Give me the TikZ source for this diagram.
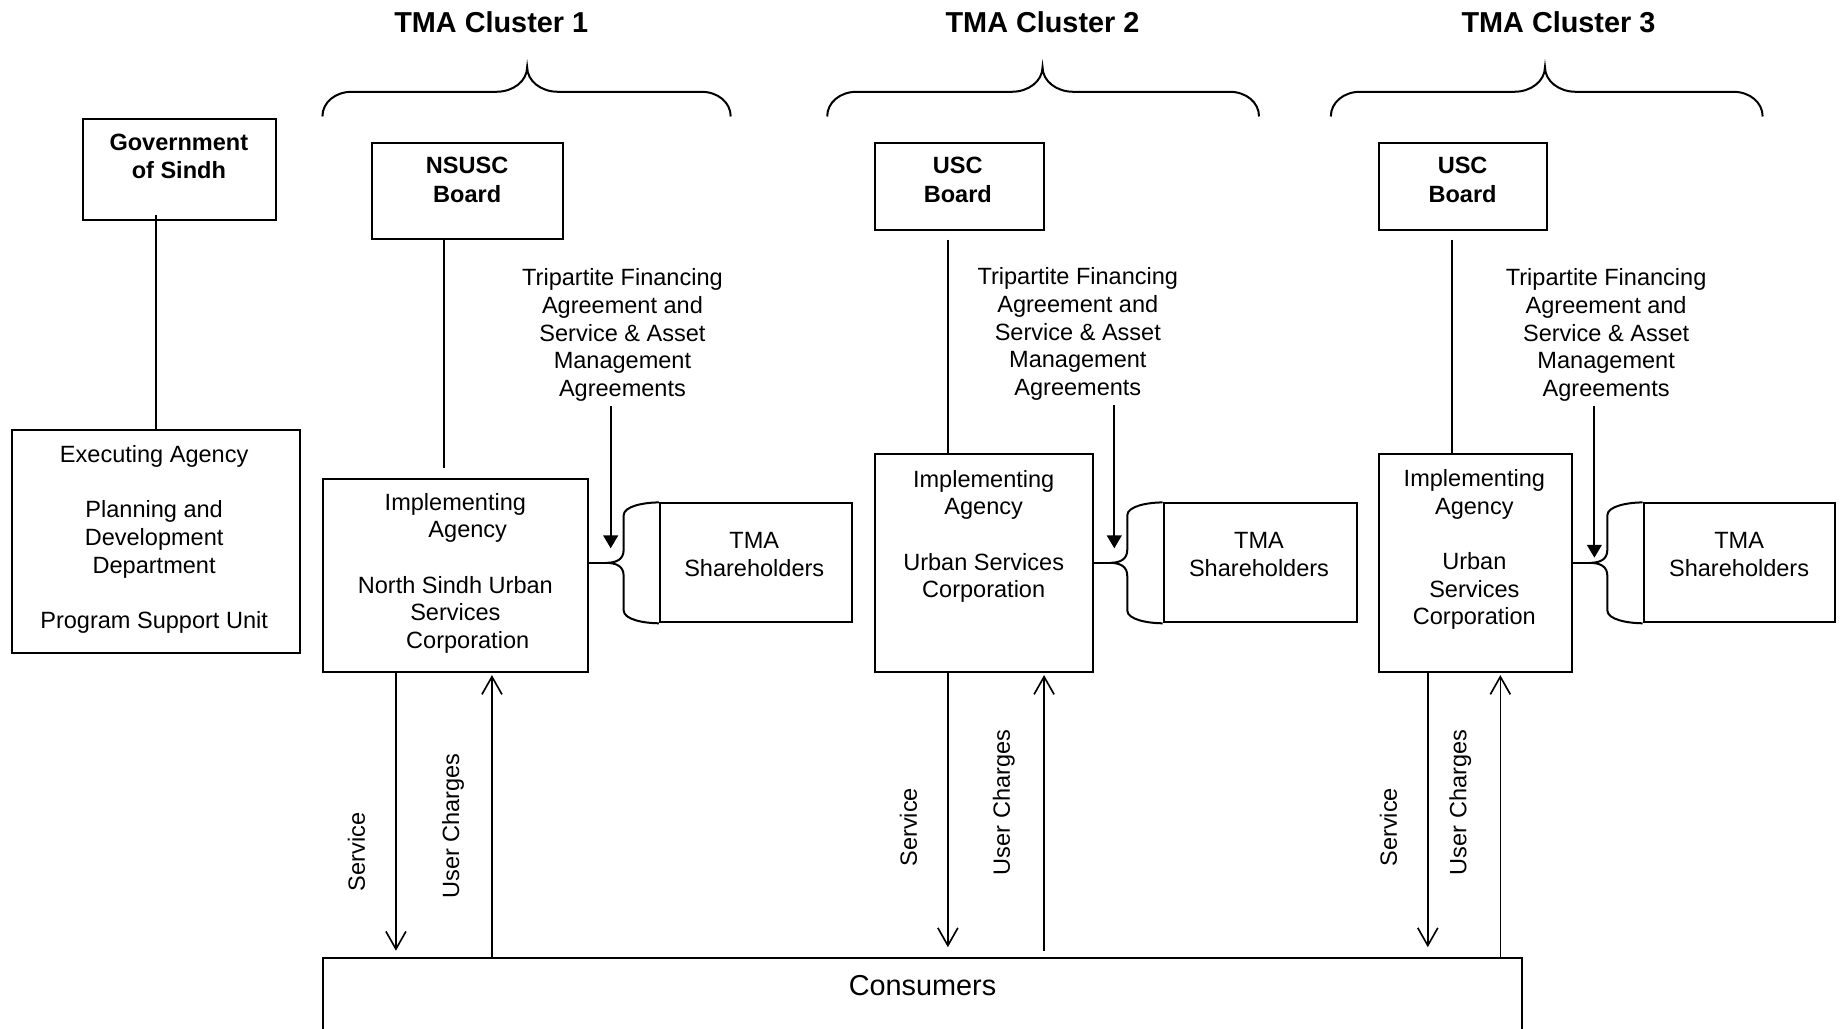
\documentclass[tikz,border=0pt]{standalone}
\usepackage{fontspec}
\setmainfont{Liberation Sans}
\usetikzlibrary{arrows.meta,calc}
\newcommand\fsn{\fontsize{20pt}{23.5pt}\selectfont}
\newcommand\fsb{\fontsize{20pt}{24.5pt}\selectfont\bfseries}
\newcommand\fst{\fontsize{24.5pt}{28pt}\selectfont\bfseries}
\newcommand\fsc{\fontsize{24.5pt}{28pt}\selectfont}
\tikzset{
  ln/.style={line width=1.7pt},
  box/.style={draw, line width=1.7pt, rectangle, inner sep=0pt, anchor=north west},
  txt/.style={align=center, inner sep=0pt, anchor=base, font=\fsn},
  ttl/.style={inner sep=0pt, anchor=base, font=\fst},
  rlab/.style={inner sep=0pt, anchor=center, rotate=90, font=\fsn},
  sarr/.style={line width=1.4pt, -{Straight Barb[length=15pt,width=17pt]}},
  tri/.style={line width=1.7pt, -{Triangle[length=11pt,width=12.5pt]}}
}
\newcommand\tmabrace[3]{\draw[ln] (#1,99) .. controls (#1,87) and (#1+11,78) .. (#1+25,78) -- (#2-26,78) .. controls (#2-12,78) and (#2,69) .. (#2,57) .. controls (#2,69) and (#2+12,78) .. (#2+26,78) -- (#3-25,78) .. controls (#3-11,78) and (#3,87) .. (#3,99);}
\newcommand\shbrace[1]{\draw[ln] (#1.north west) .. controls +(-12,0) and +(0,-8) .. ($(#1.north west)+(-30,11)$) -- ($(#1.west)+(-30,-11)$) .. controls +(0,8) and +(9,0) .. ($(#1.west)+(-45,0)$) .. controls +(9,0) and +(0,-8) .. ($(#1.west)+(-30,11)$) -- ($(#1.south west)+(-30,-11)$) .. controls +(0,8) and +(-12,0) .. (#1.south west);}
\begin{document}
\begin{tikzpicture}[x=1pt,y=-1pt]
\clip (0,0) rectangle (1568,874);
\fill[white] (0,0) rectangle (1568,874);

% titles
\node[ttl] (t1) at (417.5,27.5) {TMA Cluster 1};
\node[ttl] (t2) at (886,27.5) {TMA Cluster 2};
\node[ttl] (t3) at (1324.5,27.5) {TMA Cluster 3};
\tmabrace{274}{448}{621}
\tmabrace{703}{886}{1070}
\tmabrace{1131}{1313}{1498}

% boxes
\node[box, minimum width=164pt, minimum height=86pt] (gov) at (70,100) {};
\node[box, minimum width=245pt, minimum height=189pt] (exec) at (9,365) {};
\node[box, minimum width=163pt, minimum height=81pt] (b1) at (315,121) {};
\node[box, minimum width=225pt, minimum height=164pt] (impl1) at (274,406) {};
\node[box, minimum width=163pt, minimum height=101pt] (tma1) at (560,427) {};
\node[box, minimum width=143pt, minimum height=74pt] (b2) at (743,121) {};
\node[box, minimum width=185pt, minimum height=185pt] (impl2) at (743,385) {};
\node[box, minimum width=164pt, minimum height=101pt] (tma2) at (988,427) {};
\node[box, minimum width=143pt, minimum height=74pt] (b3) at (1171,121) {};
\node[box, minimum width=164pt, minimum height=185pt] (impl3) at (1171,385) {};
\node[box, minimum width=163pt, minimum height=101pt] (tma3) at (1396,427) {};
\node[box, minimum width=1019pt, minimum height=90pt] (cons) at (274,813) {};

% texts (anchor base = baseline of the last line)
\node[txt, font=\fsb] (govt) at (152,152) {Government\\of Sindh};
\node[txt] (exect) at (131,534) {Executing Agency\\[23.5pt]Planning and\\Development\\Department\\[23.5pt]Program Support Unit};
\node[txt, font=\fsb] (b1t) at (397,172) {NSUSC\\Board};
\node[txt] (impl1t) at (387,551) {Implementing\\\hspace*{21pt}Agency\\[23.5pt]North Sindh Urban\\Services\\\hspace*{21pt}Corporation};
\node[txt] (trip1) at (529,337) {Tripartite Financing\\Agreement and\\Service \& Asset\\Management\\Agreements};
\node[txt] (tma1t) at (641,490) {TMA\\Shareholders};
\node[txt, font=\fsb] (b2t) at (814,172) {USC\\Board};
\node[txt] (impl2t) at (836,508) {Implementing\\Agency\\[23.5pt]Urban Services\\Corporation};
\node[txt] (trip2) at (916,336) {Tripartite Financing\\Agreement and\\Service \& Asset\\Management\\Agreements};
\node[txt] (tma2t) at (1070,490) {TMA\\Shareholders};
\node[txt, font=\fsb] (b3t) at (1243,172) {USC\\Board};
\node[txt] (impl3t) at (1253,531) {Implementing\\Agency\\[23.5pt]Urban\\Services\\Corporation};
\node[txt] (trip3) at (1365,337) {Tripartite Financing\\Agreement and\\Service \& Asset\\Management\\Agreements};
\node[txt] (tma3t) at (1478,490) {TMA\\Shareholders};
\node[txt, font=\fsc] (const) at (784,846) {Consumers};

\node[rlab] (sv1) at (303,724) {Service};
\node[rlab] (uc1) at (385,702) {User Charges};
\node[rlab] (sv2) at (772,703) {Service};
\node[rlab] (uc2) at (853,682) {User Charges};
\node[rlab] (sv3) at (1180,703) {Service};
\node[rlab] (uc3) at (1241,682) {User Charges};

% government line
\draw[ln, shorten <=-5pt] (exec.north |- gov.south) -- (exec.north);

% board lines
\draw[ln, shorten >=8pt] ($(b1.south west)!0.38!(b1.south east)$) coordinate (v1) -- (v1 |- impl1.north);
\draw[ln, shorten <=7pt] ($(b2.south west)!0.434!(b2.south east)$) coordinate (v2) -- (v2 |- impl2.north);
\draw[ln, shorten <=7pt] ($(b3.south west)!0.434!(b3.south east)$) coordinate (v3) -- (v3 |- impl3.north);

% shareholder braces
\shbrace{tma1}
\shbrace{tma2}
\shbrace{tma3}
\draw[ln] (impl1.east |- tma1.west) -- ($(tma1.west)+(-45,0)$);
\draw[ln] (impl2.east |- tma2.west) -- ($(tma2.west)+(-45,0)$);
\draw[ln] (impl3.east |- tma3.west) -- ($(tma3.west)+(-45,0)$);

% agreement arrows
\coordinate (a1) at (519,466);
\coordinate (a2) at (947,466);
\coordinate (a3) at (1355,474);
\draw[tri, shorten <=4pt] (a1 |- trip1.south) -- (a1);
\draw[tri, shorten <=4pt] (a2 |- trip2.south) -- (a2);
\draw[tri, shorten <=4pt] (a3 |- trip3.south) -- (a3);

% service and user charges
\coordinate (s1) at ($(impl1.south west)!0.2756!(impl1.south east)$);
\coordinate (u1) at ($(impl1.south west)!0.6356!(impl1.south east)$);
\coordinate (s2) at ($(impl2.south west)!0.335!(impl2.south east)$);
\coordinate (u2) at ($(impl2.south west)!0.773!(impl2.south east)$);
\coordinate (s3) at ($(impl3.south west)!0.256!(impl3.south east)$);
\coordinate (u3) at ($(impl3.south west)!0.628!(impl3.south east)$);
\draw[sarr, shorten >=5pt] (s1) -- (s1 |- cons.north);
\draw[sarr, shorten >=2pt] (u1 |- cons.north) -- (u1);
\draw[sarr, shorten >=8pt] (s2) -- (s2 |- cons.north);
\draw[sarr, shorten <=5pt, shorten >=2pt] (u2 |- cons.north) -- (u2);
\draw[sarr, shorten >=8pt] (s3) -- (s3 |- cons.north);
\draw[sarr, shorten >=2pt] (u3 |- cons.north) -- (u3);
\end{tikzpicture}
\end{document}
